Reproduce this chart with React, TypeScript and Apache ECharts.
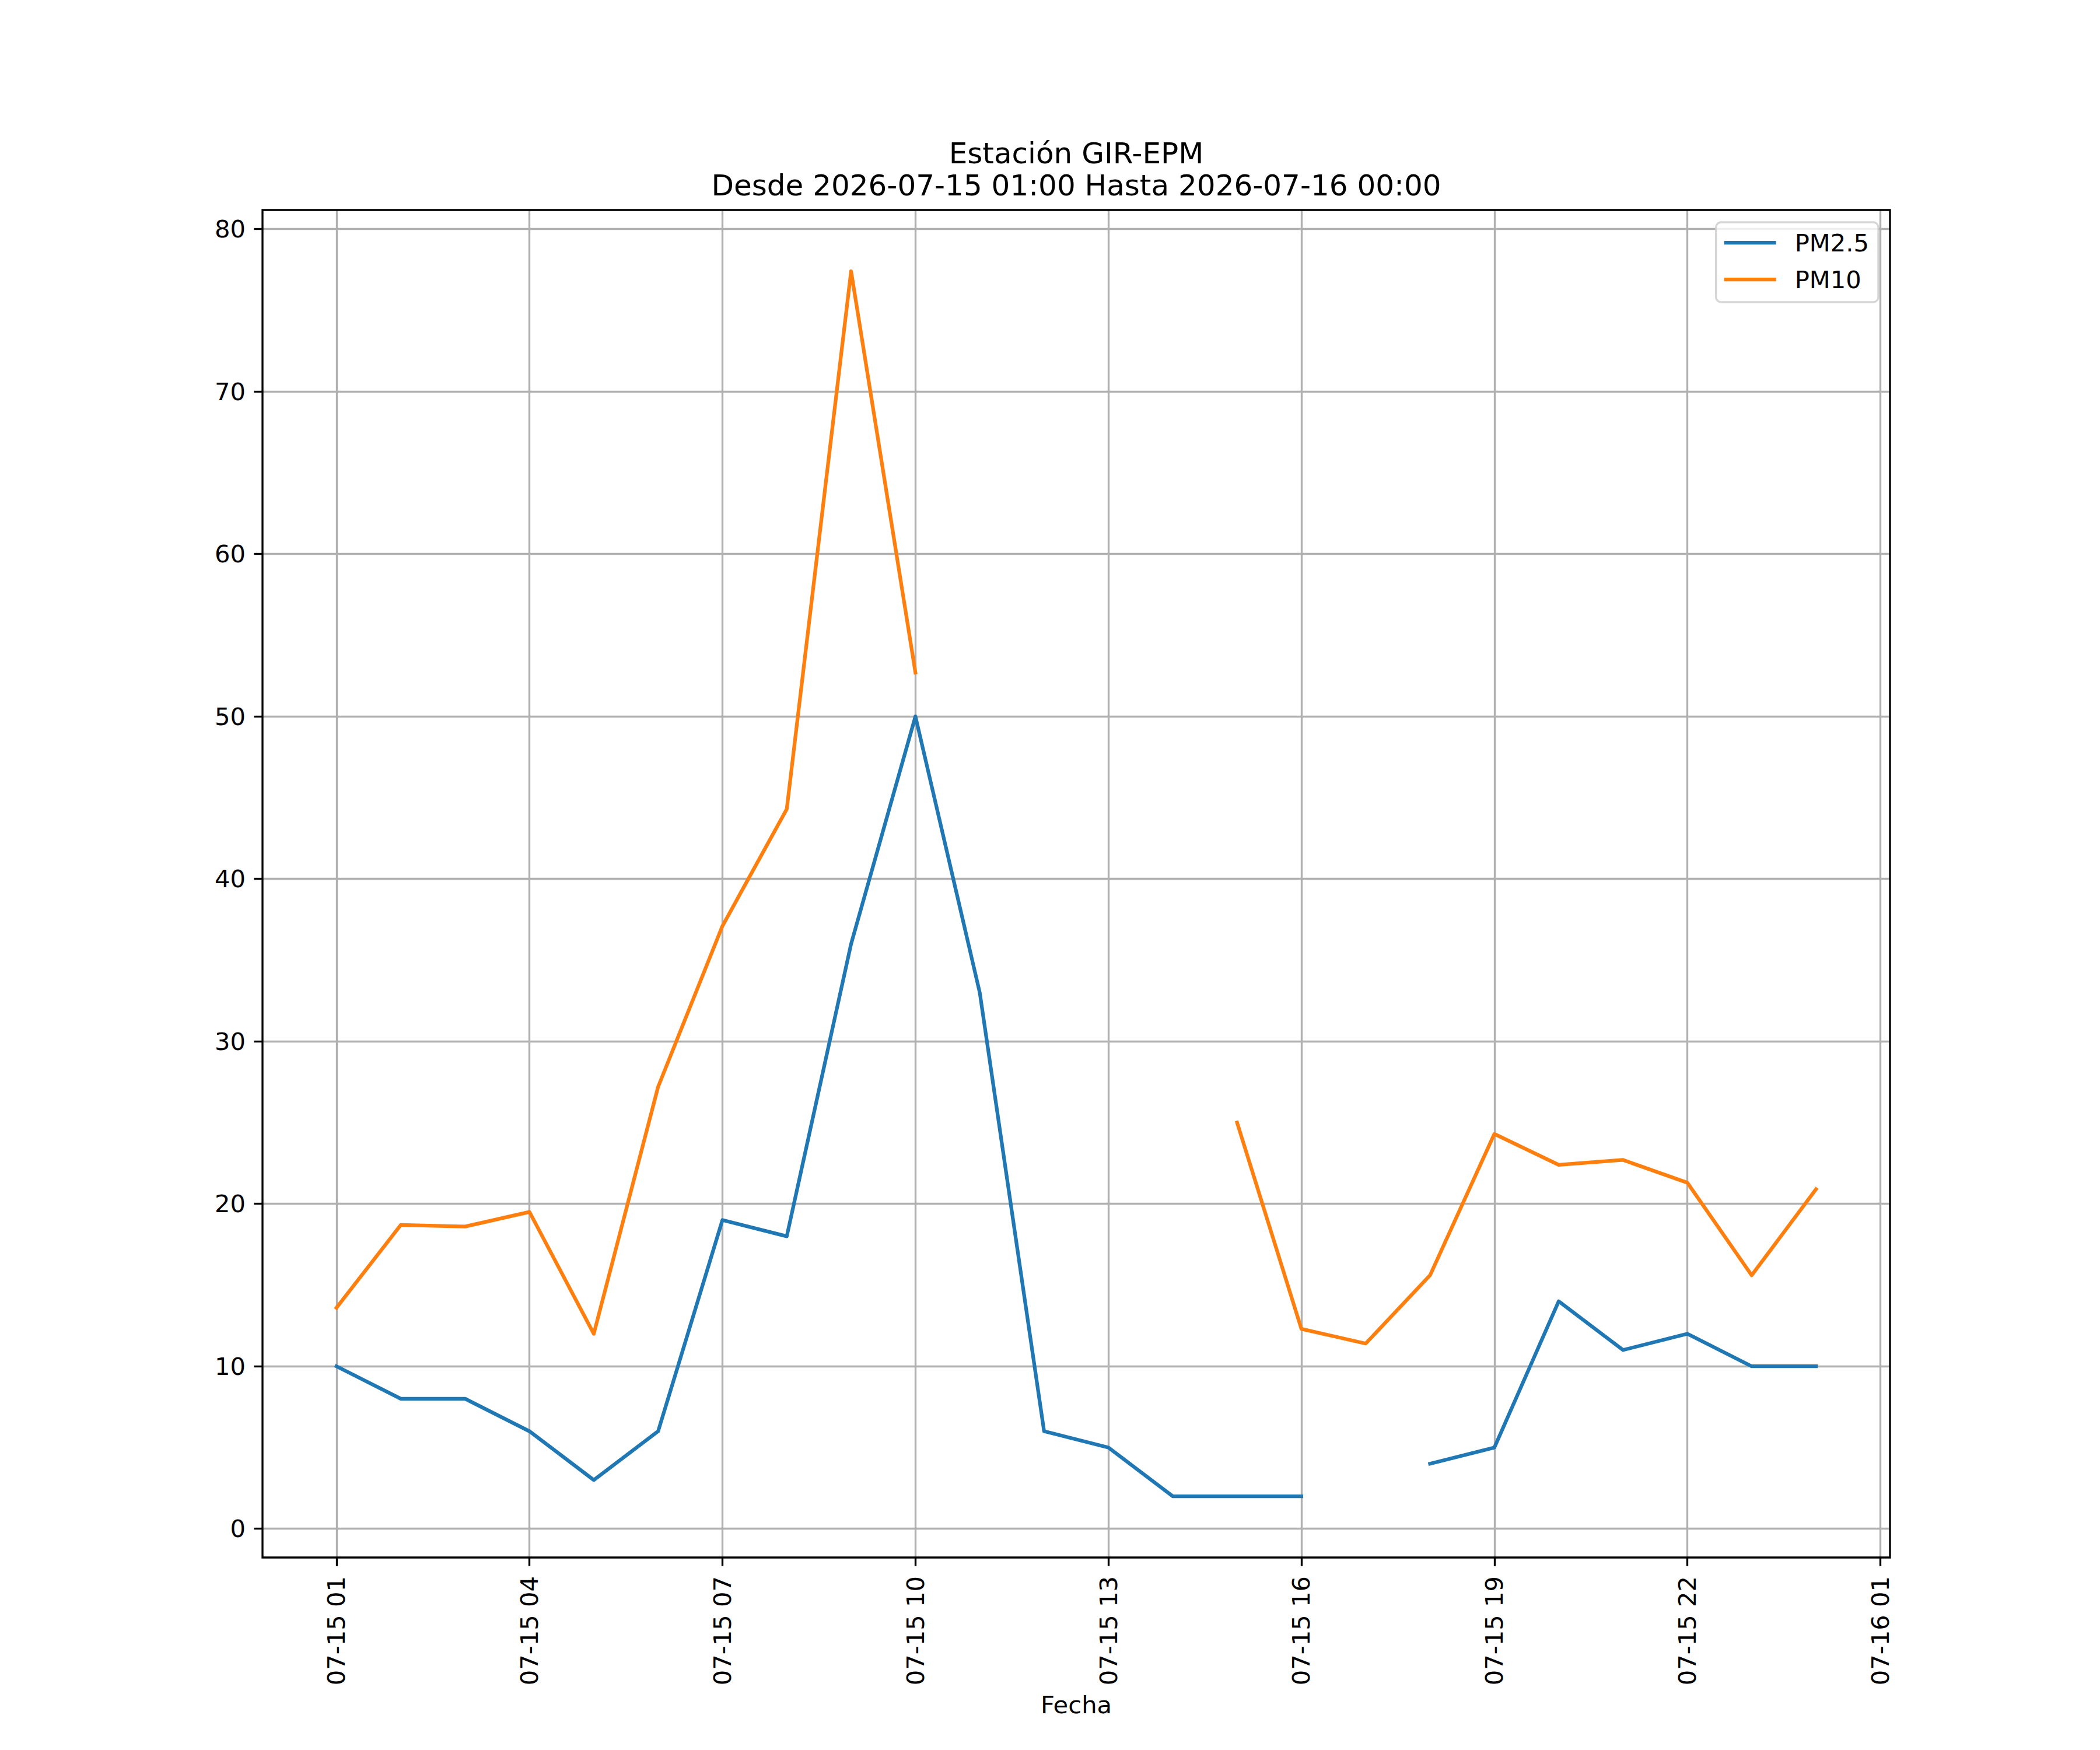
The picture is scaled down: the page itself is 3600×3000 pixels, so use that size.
import React, { useEffect, useRef } from "react";
import * as echarts from "echarts";

// Hours since 2026-07-15 00:00 (1 = 07-15 01:00 ... 24 = 07-16 00:00)
const HOURS = [1, 2, 3, 4, 5, 6, 7, 8, 9, 10, 11, 12, 13, 14, 15, 16, 17, 18, 19, 20, 21, 22, 23, 24];
const PM25 = [10, 8, 8, 6, 3, 6, 19, 18, 36, 50, 33, 6, 5, 2, 2, 2, null, 4, 5, 14, 11, 12, 10, 10];
const PM10 = [13.6, 18.7, 18.6, 19.5, 12.0, 27.2, 37.1, 44.3, 77.4, 52.7, null, null, null, null, 25.0, 12.3, 11.4, 15.6, 24.3, 22.4, 22.7, 21.3, 15.6, 20.9];
const X_TICKS = [1, 4, 7, 10, 13, 16, 19, 22, 25];
const X_TICK_LABELS = ["07-15 01", "07-15 04", "07-15 07", "07-15 10", "07-15 13", "07-15 16", "07-15 19", "07-15 22", "07-16 01"];
const Y_TICKS = [0, 10, 20, 30, 40, 50, 60, 70, 80];
const TITLE_LINE1 = "Estación GIR-EPM";
const TITLE_LINE2 = "Desde 2026-07-15 01:00 Hasta 2026-07-16 00:00";
const X_NAME = "Fecha";

const FONT = "DejaVu Sans";
const FS = 41.67;
const LW = 3.33;

function pairs(vals: (number | null)[]) {
  return HOURS.map((h, i) => [h, vals[i] === null ? "-" : vals[i]]);
}

export default function App() {
  const ref = useRef<HTMLDivElement>(null);
  useEffect(() => {
    document.body.style.margin = "0";
    if (!ref.current) return;
    const chart = echarts.init(ref.current, null, { renderer: "svg" });
    const option: any = {
      animation: false,
      backgroundColor: "#ffffff",
      textStyle: { fontFamily: FONT },
      graphic: [
        {
          type: "text",
          x: 1845,
          y: 263,
          style: { text: TITLE_LINE1, fontFamily: FONT, fontSize: 50, fill: "#000", textAlign: "center", textVerticalAlign: "middle" },
        },
        {
          type: "text",
          x: 1845,
          y: 318,
          style: { text: TITLE_LINE2, fontFamily: FONT, fontSize: 50, fill: "#000", textAlign: "center", textVerticalAlign: "middle" },
        },
      ],
      grid: {
        left: 450,
        top: 360,
        width: 2790,
        height: 2310,
        show: true,
        borderColor: "#000",
        borderWidth: LW,
        backgroundColor: "transparent",
        z: 3,
      },
      legend: {
        orient: "vertical",
        right: 380,
        top: 381,
        data: ["PM2.5", "PM10"],
        icon: "rect",
        itemWidth: 89,
        itemHeight: 6.25,
        itemGap: 15,
        padding: [11, 16, 15, 14],
        backgroundColor: "rgba(255,255,255,0.8)",
        borderColor: "rgba(204,204,204,0.8)",
        borderWidth: LW,
        borderRadius: 9,
        align: "left",
        textStyle: { fontFamily: FONT, fontSize: FS, color: "#000", lineHeight: 48, padding: [0, 0, 0, 27] },
        selectedMode: false,
      },
      xAxis: {
        type: "value",
        min: -0.15,
        max: 25.15,
        name: X_NAME,
        nameLocation: "middle",
        nameGap: 252,
        nameTextStyle: { fontFamily: FONT, fontSize: FS, color: "#000", verticalAlign: "middle" },
        axisLine: { show: false, onZero: false },
        axisTick: { show: true, inside: false, length: 14.6, lineStyle: { color: "#000", width: LW }, customValues: X_TICKS },
        axisLabel: {
          show: true,
          rotate: 90,
          margin: 32,
          fontFamily: FONT,
          fontSize: FS,
          color: "#000",
          customValues: X_TICKS,
          formatter: (v: number) => {
            const i = X_TICKS.indexOf(Math.round(v));
            return i >= 0 ? X_TICK_LABELS[i] : "";
          },
        },
        splitLine: { show: true, lineStyle: { color: "#b0b0b0", width: LW } },
      },
      yAxis: {
        type: "value",
        min: -1.77,
        max: 81.17,
        axisLine: { show: false, onZero: false },
        axisTick: { show: true, inside: false, length: 14.6, lineStyle: { color: "#000", width: LW }, customValues: Y_TICKS },
        axisLabel: {
          show: true,
          margin: 29,
          fontFamily: FONT,
          fontSize: FS,
          color: "#000",
          customValues: Y_TICKS,
          formatter: (v: number) => String(Math.round(v)),
        },
        splitLine: { show: true, lineStyle: { color: "#b0b0b0", width: LW } },
      },
      series: [
        {
          name: "PM2.5",
          type: "line",
          data: pairs(PM25),
          showSymbol: false,
          symbol: "none",
          connectNulls: false,
          color: "#1f77b4",
          lineStyle: { color: "#1f77b4", width: 6.25, cap: "square", join: "round" },
          z: 4,
        },
        {
          name: "PM10",
          type: "line",
          data: pairs(PM10),
          showSymbol: false,
          symbol: "none",
          connectNulls: false,
          color: "#ff7f0e",
          lineStyle: { color: "#ff7f0e", width: 6.25, cap: "square", join: "round" },
          z: 4,
        },
      ],
    };
    chart.setOption(option);
    return () => chart.dispose();
  }, []);
  return <div ref={ref} style={{ width: 3600, height: 3000 }} />;
}
